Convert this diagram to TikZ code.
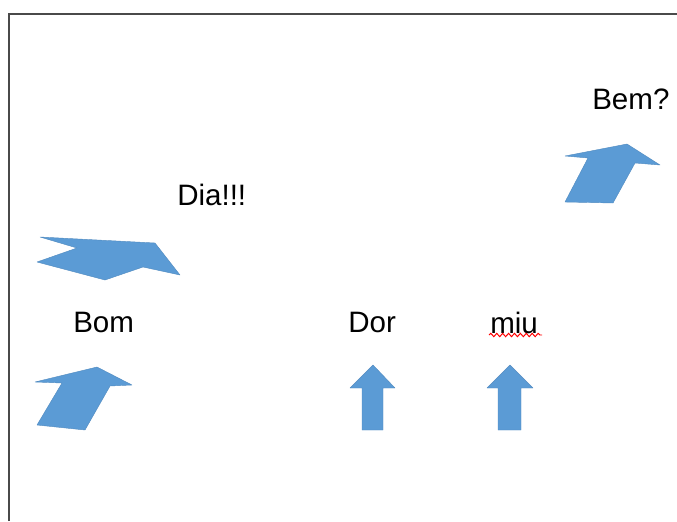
\documentclass[tikz,border=0pt]{standalone}
\usepackage{fontspec}
\setmainfont{Liberation Sans}
\usetikzlibrary{decorations.pathmorphing}
\definecolor{arrowblue}{HTML}{5B9BD5}
\definecolor{framegray}{HTML}{4A4A4A}
\begin{document}
\begin{tikzpicture}[x=0.025cm,y=-0.025cm,
  word/.style={anchor=base west,inner sep=0pt,font=\fontsize{21}{25}\selectfont},
  blockarrow/.style={fill=arrowblue,draw=arrowblue!90!black,line width=0.3pt,line join=round}]
\useasboundingbox (0,0) rectangle (677,521);
\draw[framegray,line width=1.3] (9,521) -- (9,14) -- (677,14); %page edge
\draw[blockarrow] (40,237) -- (155,243) -- (180,275) -- (143,267) -- (105,280) -- (37,262) -- (77,248) -- cycle; %bent arrow
\draw[blockarrow] (35,382) -- (97,367) -- (132,385) -- (110,386) -- (85,430) -- (37,425) -- (62,383) -- cycle; %slanted left
\draw[blockarrow] (565,156) -- (627,144) -- (660,165) -- (635,163) -- (613,203) -- (565,202) -- (588,158) -- cycle; %slanted right
\draw[blockarrow] (373,365) -- (395,388) -- (383,388) -- (383,430) -- (362,430) -- (362,388) -- (350,388) -- cycle; %up 1
\draw[blockarrow] (510,365) -- (533,388) -- (521,388) -- (521,430) -- (498,430) -- (498,388) -- (487,388) -- cycle; %up 2
\node[word] (bom) at (73,332) {Bom};
\node[word] (dia) at (177,205) {Dia!!!};
\node[word] (dor) at (348,332) {Dor};
\node[word] (miu) at (490,333) {miu};
\node[word] (bem) at (592,109) {Bem?};
\draw[red,line width=0.7,decorate,decoration={snake,amplitude=1.2pt,segment length=4.2pt}] (489,335) -- (542,335); %spell check
\end{tikzpicture}
\end{document}
